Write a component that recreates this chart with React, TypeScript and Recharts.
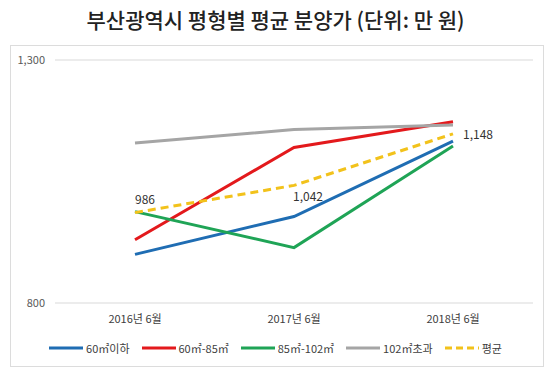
import React from 'react';
import { LineChart, Line, XAxis, YAxis, CartesianGrid, LabelList } from 'recharts';

const categories = ['2016년 6월', '2017년 6월', '2018년 6월'];
const under60 = [900, 978, 1133];
const from60to85 = [930, 1120, 1173];
const from85to102 = [988, 914, 1123];
const over102 = [1129, 1157, 1166];
const average = [986, 1042, 1148];
const yTicks = [800, 1300];

const SERIES = [
  { key: 'under60', name: '60㎡이하', color: '#1f6db3', values: under60 },
  { key: 'from60to85', name: '60㎡-85㎡', color: '#e3191c', values: from60to85 },
  { key: 'from85to102', name: '85㎡-102㎡', color: '#1fa456', values: from85to102 },
  { key: 'over102', name: '102㎡초과', color: '#a5a5a5', values: over102 },
  { key: 'average', name: '평균', color: '#f2c21b', values: average, dashed: true },
];

const data = categories.map((name, i) => {
  const row: Record<string, string | number> = { name };
  SERIES.forEach((s) => { row[s.key] = s.values[i]; });
  return row;
});

const FONT = '"Noto Sans CJK KR", "Noto Sans", sans-serif';

const AvgLabel = (props: any) => {
  const { x, y, value, index } = props;
  const text = value.toLocaleString('en-US');
  let tx = x, ty = y - 9;
  if (index === 1) { tx = x - 1; ty = y + 16; }
  if (index === 2) { tx = x + 10; ty = y + 5; }
  return (
    <text x={tx} y={ty} fill="#333" fontSize={12} fontFamily={FONT}>
      {text}
    </text>
  );
};

const App: React.FC = () => {
  return (
    <div style={{ position: 'absolute', left: 0, top: 0, width: 551, height: 372, background: '#fff', fontFamily: FONT }}>
      <div style={{ position: 'absolute', left: 0, top: 4, width: 551, textAlign: 'center', fontSize: 21, fontWeight: 500, color: '#222' }}>
        부산광역시 평형별 평균 분양가 (단위: 만 원)
      </div>
      <div style={{ position: 'absolute', left: 10, top: 45, width: 532, height: 320, border: '1px solid #dcdcdc' }} />
      <div style={{ position: 'absolute', left: 0, top: 0 }}>
        <LineChart width={551} height={372} data={data} margin={{ top: 60, right: 18, bottom: 39, left: 10 }}>
          <CartesianGrid vertical={false} stroke="#d9d9d9" />
          <XAxis
            dataKey="name"
            axisLine={false}
            tickLine={false}
            height={30}
            padding={{ left: 80, right: 80 }}
            tick={{ fill: '#404040', fontSize: 11, fontFamily: FONT }}
            tickMargin={6}
          />
          <YAxis
            domain={[800, 1300]}
            ticks={yTicks}
            axisLine={false}
            tickLine={false}
            width={45}
            tickMargin={4}
            tick={{ fill: '#595959', fontSize: 11, fontFamily: FONT }}
            tickFormatter={(v: number) => v.toLocaleString('en-US')}
          />
          {SERIES.map((s) => (
            <Line
              key={s.key}
              dataKey={s.key}
              name={s.name}
              stroke={s.color}
              strokeWidth={3}
              strokeDasharray={s.dashed ? '8 5' : undefined}
              dot={false}
              activeDot={false}
              type="linear"
              isAnimationActive={false}
            >
              {s.dashed ? <LabelList dataKey={s.key} content={AvgLabel} /> : null}
            </Line>
          ))}
        </LineChart>
      </div>
      <div style={{ position: 'absolute', left: 0, top: 340, width: 551, display: 'flex', justifyContent: 'center', gap: 12, fontSize: 11, color: '#404040' }}>
        {SERIES.map((s) => (
          <div key={s.key} style={{ display: 'flex', alignItems: 'center', gap: 3 }}>
            <svg width={34} height={6}>
              <line x1={0} y1={3} x2={34} y2={3} stroke={s.color} strokeWidth={3} strokeDasharray={s.dashed ? '7 4' : undefined} />
            </svg>
            <span>{s.name}</span>
          </div>
        ))}
      </div>
    </div>
  );
};

export default App;
